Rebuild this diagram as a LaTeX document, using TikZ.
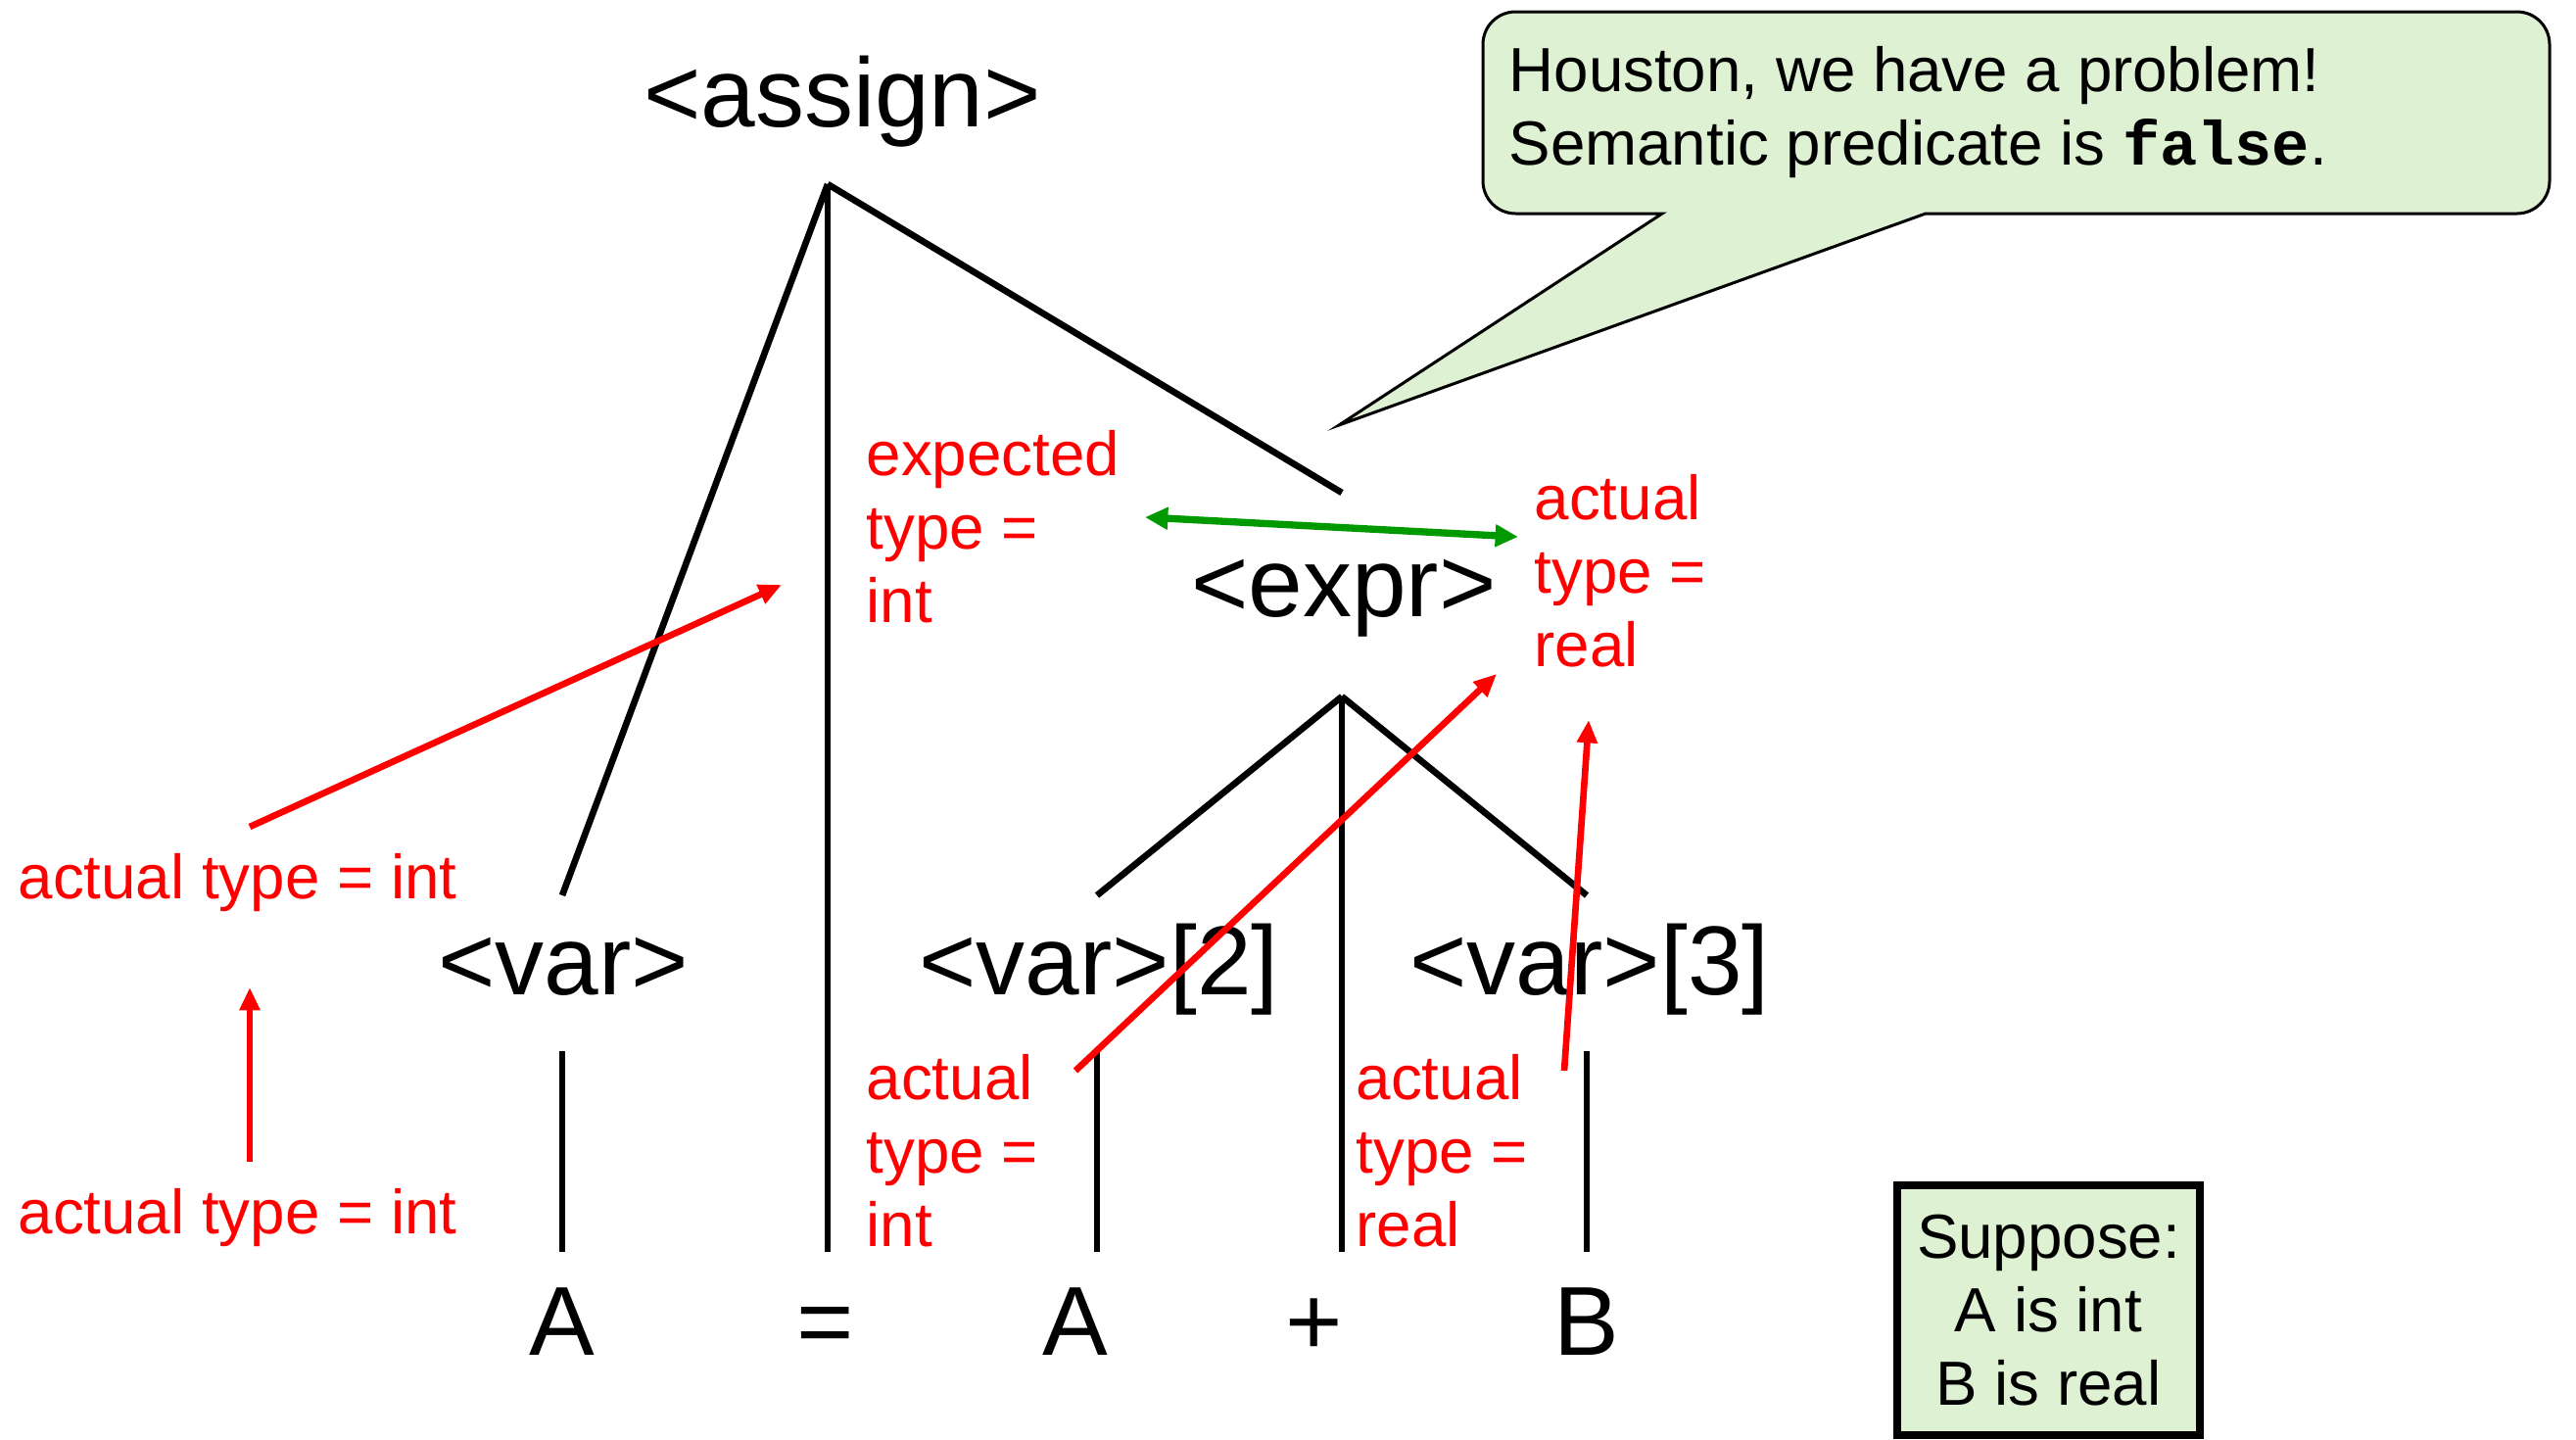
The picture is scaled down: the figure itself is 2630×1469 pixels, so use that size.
\documentclass[tikz,border=0pt]{standalone}
\usepackage{fontspec}
\setmainfont{Liberation Sans}
\setmonofont{Liberation Mono}
\usetikzlibrary{arrows.meta}
\definecolor{calloutfill}{RGB}{222,242,211}
\definecolor{arrgreen}{RGB}{0,153,0}
\begin{document}
\begin{tikzpicture}[x=0.3pt,y=-0.3pt,
  big/.style={font=\fontsize{30}{36}\selectfont, inner sep=0pt, anchor=base},
  lbl/.style={font=\fontsize{19.1}{22.5}\selectfont, text=red, inner sep=0pt, anchor=base west, align=left},
  small/.style={font=\fontsize{19.1}{22.5}\selectfont, inner sep=0pt},
  tree/.style={line width=2pt, black},
  redarr/.style={line width=2pt, red, -{Triangle[length=7pt,width=6pt]}},
  grnarr/.style={line width=2.2pt, arrgreen, {Triangle[length=7pt,width=6.5pt]}-{Triangle[length=7pt,width=6.5pt]}},
]
\useasboundingbox (0,0) rectangle (2630,1469);

% callout
\coordinate (tip) at (1367,434);
\filldraw[fill=calloutfill, draw=black, line width=0.9pt] (tip) -- (1966,218) -- (2100,218) [rounded corners=10pt] -- (2603,218) -- (2603,12) -- (1514,12) -- (1514,218) -- (1600,218) [sharp corners] -- (1697,218) -- cycle;
\node[small, anchor=base west, align=left] (houston) at (1540,168) {Houston, we have a problem!\\Semantic predicate is \texttt{\bfseries false}.};

% tree nodes
\node[big] (assign) at (860,129) {<assign>};
\node[big] (expr) at (1372,629) {<expr>};
\node[big] (var1) at (575,1015) {<var>};
\node[big] (var2) at (1122,1015) {<var>[2]};
\node[big] (var3) at (1623,1015) {<var>[3]};
\node[big] (leafA) at (574,1383) {A};
\node[big] (leafEq) at (843,1383) {=};
\node[big] (leafA2) at (1098,1383) {A};
\node[big] (leafPlus) at (1342,1383) {+};
\node[big] (leafB) at (1620,1383) {B};

% tree coordinates
\coordinate (root) at (845,188);
\coordinate (rootL) at (574,914);
\coordinate (rootM) at (845,1278);
\coordinate (rootR) at (1370,503);
\coordinate (eroot) at (1370,711);
\coordinate (eL) at (1120,914);
\coordinate (eM) at (1370,1278);
\coordinate (eR) at (1620,914);
\coordinate (v1t) at (574,1073);
\coordinate (v1b) at (574,1278);
\coordinate (v2t) at (1120,1073);
\coordinate (v2b) at (1120,1278);
\coordinate (v3t) at (1620,1073);
\coordinate (v3b) at (1620,1278);

\draw[tree] (root) -- (rootL);
\draw[tree] (root) -- (rootM);
\draw[tree] (root) -- (rootR);
\draw[tree] (eroot) -- (eL);
\draw[tree] (eroot) -- (eM);
\draw[tree] (eroot) -- (eR);
\draw[tree] (v1t) -- (v1b);
\draw[tree] (v2t) -- (v2b);
\draw[tree] (v3t) -- (v3b);

% red labels (anchored at the baseline of their last line)
\node[lbl] (exp) at (884,635) {expected\\type =\\int};
\node[lbl] (act1) at (1566,680) {actual\\type =\\real};
\node[lbl] (act2) at (18,917) {actual type = int};
\node[lbl] (act3) at (18,1259) {actual type = int};
\node[lbl] (act4) at (884,1272) {actual\\type =\\int};
\node[lbl] (act5) at (1384,1272) {actual\\type =\\real};

% arrows
\coordinate (a1s) at (255,844);
\coordinate (a1e) at (798,597);
\coordinate (a2s) at (255,1186);
\coordinate (a2e) at (255,1008);
\coordinate (a3s) at (1098,1093);
\coordinate (a3e) at (1528,688);
\coordinate (a4s) at (1597,1093);
\coordinate (a4e) at (1622,735);
\coordinate (gs) at (1169,528);
\coordinate (ge) at (1550,548);
\draw[redarr] (a1s) -- (a1e);
\draw[redarr] (a2s) -- (a2e);
\draw[redarr] (a3s) -- (a3e);
\draw[redarr] (a4s) -- (a4e);
\draw[grnarr] (gs) -- (ge);

% suppose box
\node[small, draw, line width=2.4pt, fill=calloutfill, minimum width=92.7pt, minimum height=76.5pt, align=center] (suppose) at (2091.5,1337.5) {Suppose:\\A is int\\B is real};
\end{tikzpicture}
\end{document}
